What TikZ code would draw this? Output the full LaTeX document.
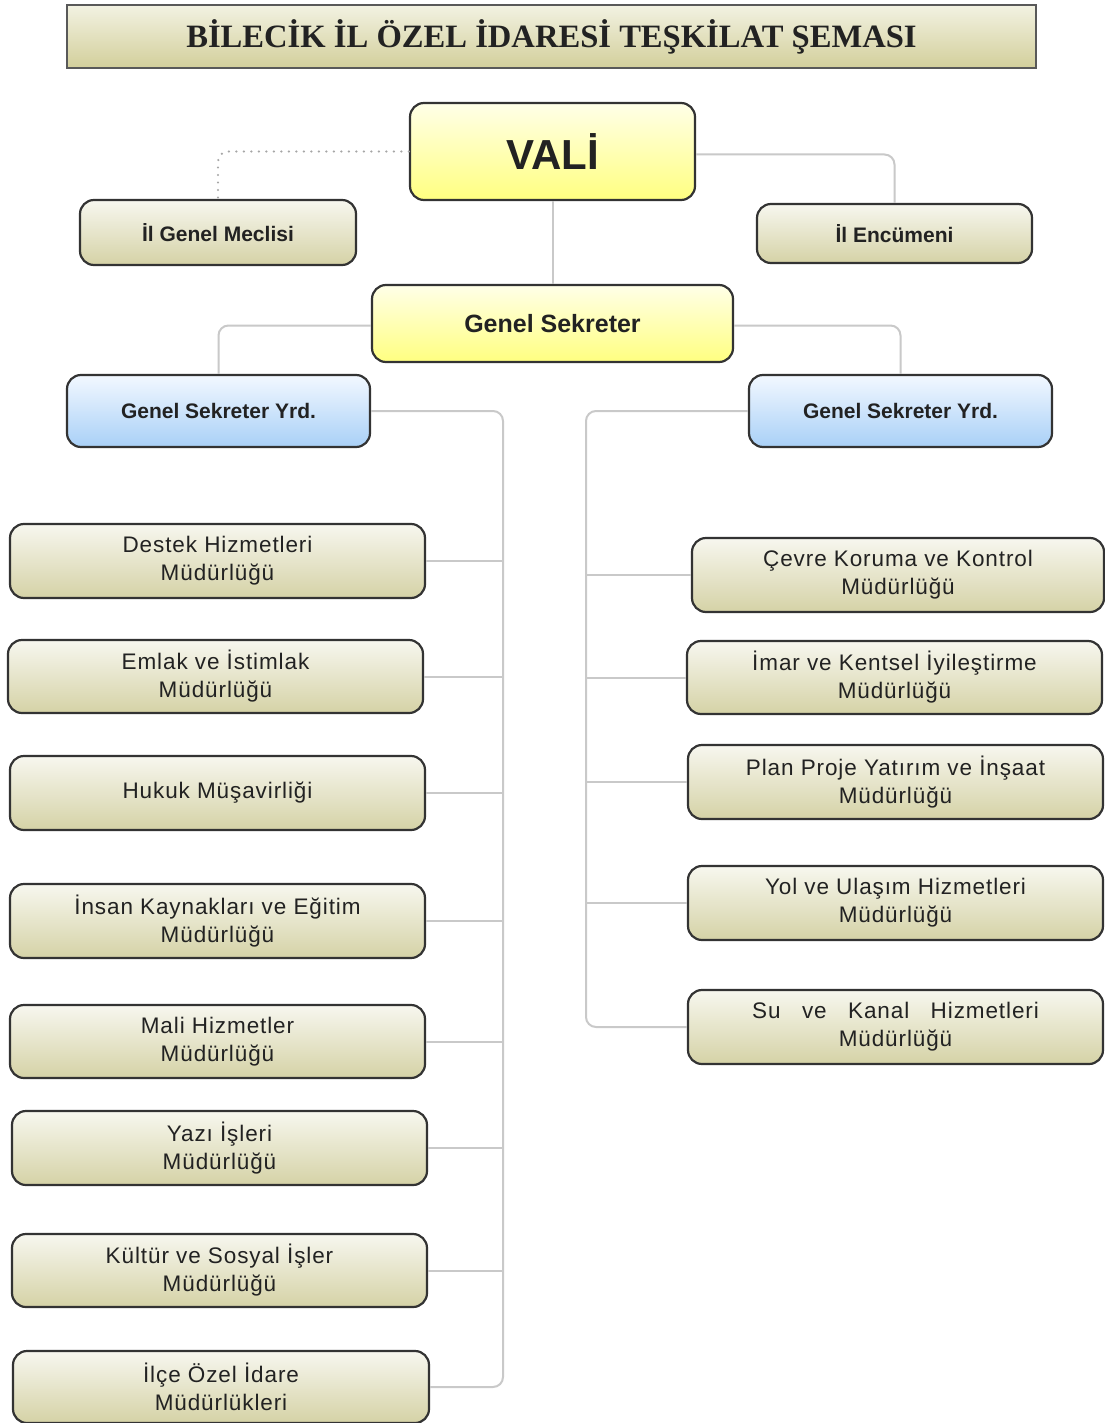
\documentclass[tikz,border=0pt]{standalone}
\usepackage{fontspec}
\setmainfont{Liberation Sans}
\newfontfamily\unitfont{Liberation Sans}[LetterSpace=4]
\newfontfamily\titlefont{Liberation Serif}
\definecolor{khtop}{HTML}{F7F7EF}
\definecolor{khbot}{HTML}{D5D2A6}
\definecolor{ttop}{HTML}{F2F2E2}
\definecolor{tbot}{HTML}{D3CF9B}
\definecolor{yetop}{HTML}{FFFFE8}
\definecolor{yebot}{HTML}{FFFF80}
\definecolor{bltop}{HTML}{F2F8FF}
\definecolor{blbot}{HTML}{A9D0F7}
\definecolor{boxborder}{HTML}{333333}
\definecolor{conc}{HTML}{C9C9C9}
\definecolor{textc}{HTML}{222222}
\tikzset{
  box/.style={draw=boxborder, line width=2.2pt, rounded corners=14pt,
    top color=khtop, bottom color=khbot, align=center, text=textc,
    inner sep=0pt, font=\unitfont\fontsize{22.5}{28}\selectfont},
  ubox/.style={box, minimum width=415pt, minimum height=74pt},
  yelbox/.style={box, top color=yetop, bottom color=yebot},
  blubox/.style={box, top color=bltop, bottom color=blbot},
  titlebox/.style={draw=black!65, line width=1.6pt, top color=ttop, bottom color=tbot,
    inner sep=0pt, text=textc, font=\titlefont\bfseries\fontsize{32.6}{36}\selectfont},
  conn/.style={draw=conc, line width=2pt, rounded corners=10pt},
  dotconn/.style={draw=black!35, line width=2.4pt, line cap=round, dash pattern=on 0pt off 7.5pt, rounded corners=10pt},
}
\begin{document}
\begin{tikzpicture}[x=1pt,y=-1pt]
\useasboundingbox (0,0) rectangle (1104,1423);
\fill[white] (0,0) rectangle (1104,1423);

\node[titlebox, minimum width=969pt, minimum height=63pt] (title) at (551.5,36.5)
  {BİLECİK İL ÖZEL İDARESİ TEŞKİLAT ŞEMASI};

% upper levels
\node[yelbox, minimum width=285pt, minimum height=97pt, font=\bfseries\fontsize{42}{46}\selectfont] (vali) at (552.5,151.5) {VALİ};
\node[box, minimum width=276pt, minimum height=65pt, font=\bfseries\fontsize{21}{26}\selectfont] (meclis) at (218,232.5) {İl Genel Meclisi};
\node[box, minimum width=275pt, minimum height=59pt, font=\bfseries\fontsize{21}{26}\selectfont] (encumen) at (894.5,233.5) {İl Encümeni};
\node[yelbox, minimum width=361pt, minimum height=77pt, font=\bfseries\fontsize{25}{30}\selectfont] (gs) at (552.5,323.5) {Genel Sekreter};
\node[blubox, minimum width=303pt, minimum height=72pt, font=\bfseries\fontsize{21}{26}\selectfont] (lyrd) at (218.5,411) {Genel Sekreter Yrd.};
\node[blubox, minimum width=303pt, minimum height=72pt, font=\bfseries\fontsize{21}{26}\selectfont] (ryrd) at (900.5,411) {Genel Sekreter Yrd.};

% left units
\node[ubox] (destek) at (217.5,561) {Destek Hizmetleri\\Müdürlüğü};
\node[ubox, minimum height=73pt] (emlak) at (215.5,676.5) {Emlak ve İstimlak\\Müdürlüğü};
\node[ubox] (hukuk) at (217.5,793) {Hukuk Müşavirliği};
\node[ubox] (insan) at (217.5,921) {İnsan Kaynakları ve Eğitim\\Müdürlüğü};
\node[ubox, minimum height=73pt] (mali) at (217.5,1041.5) {Mali Hizmetler\\Müdürlüğü};
\node[ubox] (yazi) at (219.5,1148) {Yazı İşleri\\Müdürlüğü};
\node[ubox, minimum height=73pt] (kultur) at (219.5,1270.5) {Kültür ve Sosyal İşler\\Müdürlüğü};
\node[ubox, minimum width=416pt, minimum height=72pt] (ilce) at (221,1387) {İlçe Özel İdare\\Müdürlükleri};

% right units
\node[ubox, minimum width=412pt] (cevre) at (898,575) {Çevre Koruma ve Kontrol\\Müdürlüğü};
\node[ubox, minimum height=73pt] (imar) at (894.5,677.5) {İmar ve Kentsel İyileştirme\\Müdürlüğü};
\node[ubox] (plan) at (895.5,782) {Plan Proje Yatırım ve İnşaat\\Müdürlüğü};
\node[ubox] (yol) at (895.5,903) {Yol ve Ulaşım Hizmetleri\\Müdürlüğü};
\node[ubox] (su) at (895.5,1027) {Su~~~ve~~~Kanal~~~Hizmetleri\\Müdürlüğü};

% connectors
\draw[dotconn] (vali.west) -| (meclis.north);
\draw[conn] ([yshift=-3pt]vali.east) -| (encumen.north);
\draw[conn] (vali.south) -- (gs.north);
\draw[conn] ([yshift=-2pt]gs.west) -| (lyrd.north);
\draw[conn] ([yshift=-2pt]gs.east) -| (ryrd.north);
\coordinate (ltr) at (503,411);
\coordinate (rtr) at (586,411);
\draw[conn] (lyrd.east) -- (ltr) |- (ilce.east);
\draw[conn] (ryrd.west) -- (rtr) |- (su.west);
\foreach \n in {destek,emlak,hukuk,insan,mali,yazi,kultur}
  \draw[conn] (\n.east) -- (\n.east -| ltr);
\foreach \n in {cevre,imar,plan,yol}
  \draw[conn] (\n.west) -- (\n.west -| rtr);
\end{tikzpicture}
\end{document}
